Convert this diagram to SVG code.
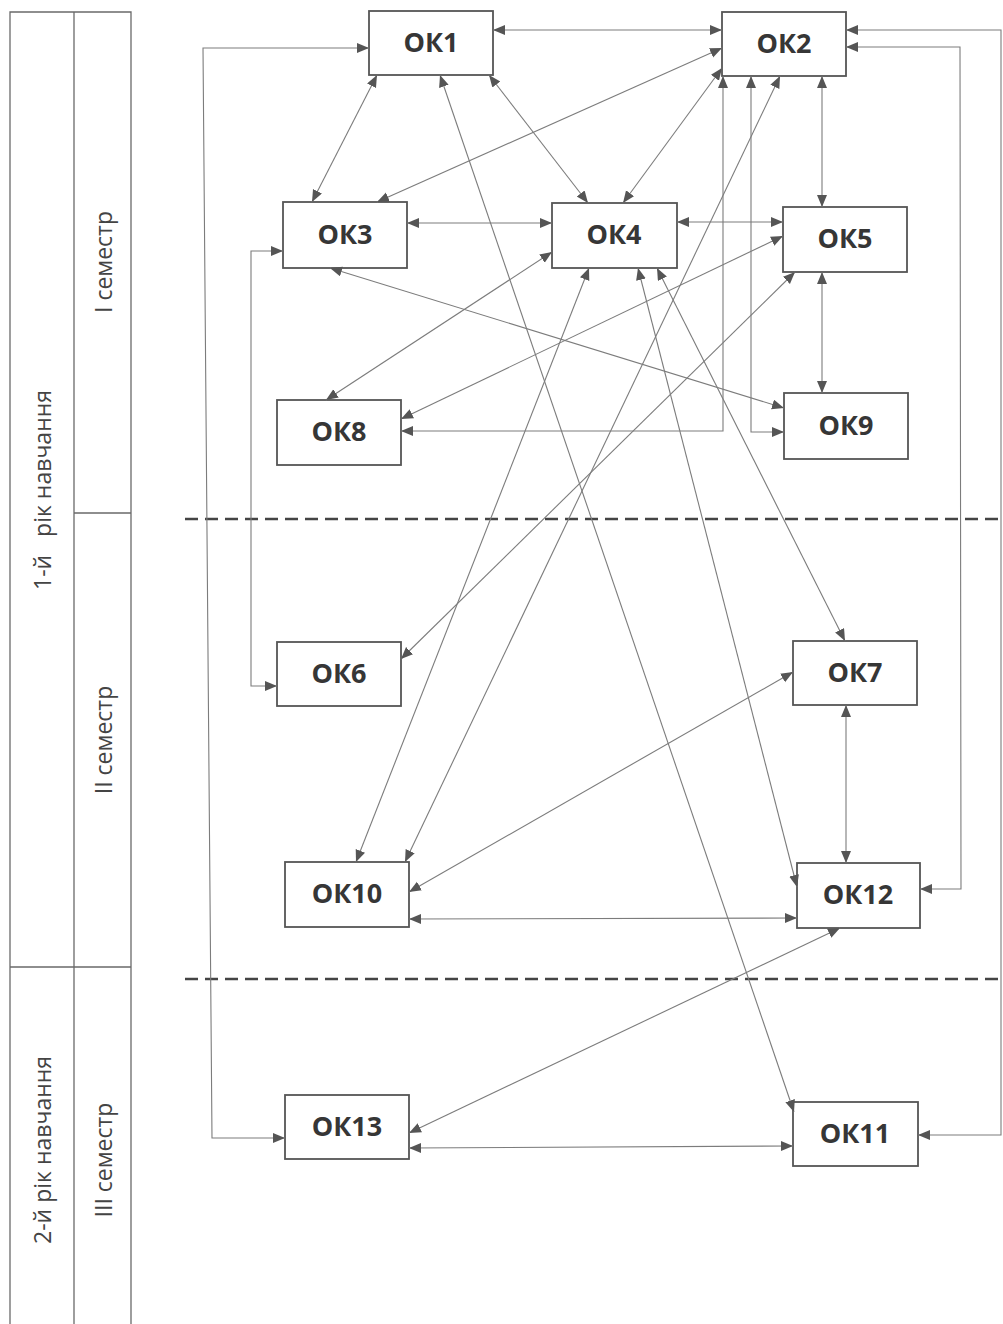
<svg xmlns="http://www.w3.org/2000/svg" width="1003" height="1324" viewBox="0 0 1003 1324">
<style>
.tbl{stroke:#6a6a6a;stroke-width:1.3;fill:none}
.lbl{font-family:"Open Sans","DejaVu Sans",sans-serif;font-size:23px;fill:#444;text-anchor:middle;white-space:pre}
.box{fill:#fff;stroke:#555;stroke-width:1.8}
.nt{font-family:"Open Sans","DejaVu Sans",sans-serif;font-weight:700;font-size:27px;fill:#363636;text-anchor:middle}
.dash{stroke:#444;stroke-width:2.5;stroke-dasharray:13 7;fill:none}
.c{stroke:#7c7c7c;stroke-width:1.1;fill:none;marker-start:url(#ah);marker-end:url(#ah)}
</style>
<defs>
<marker id="ah" markerUnits="userSpaceOnUse" markerWidth="13" markerHeight="11" refX="12" refY="5" orient="auto-start-reverse">
<path d="M0,0 L12,5 L0,10 z" fill="#555"/>
</marker>
</defs>
<rect width="1003" height="1324" fill="#fff"/>
<g id="table">
<path class="tbl" d="M10,1324 V12 H131 V1324 M74,12 V1324 M74,513 H131 M10,967 H131"/>
<text class="lbl" transform="translate(51,490) rotate(-90)">1-й   рік навчання</text>
<text class="lbl" transform="translate(51,1150) rotate(-90)">2-й рік навчання</text>
<text class="lbl" transform="translate(112,262) rotate(-90)">I семестр</text>
<text class="lbl" transform="translate(112,740) rotate(-90)">II семестр</text>
<text class="lbl" transform="translate(112,1160) rotate(-90)">III семестр</text>
</g>
<g id="dividers">
<line class="dash" x1="185" y1="519" x2="1003" y2="519"/>
<line class="dash" x1="185" y1="979" x2="1003" y2="979"/>
</g>
<g id="nodes">
<g id="ok1"><rect class="box" x="369" y="11" width="124" height="64"/><text class="nt" x="431" y="52">ОК1</text></g>
<g id="ok2"><rect class="box" x="722" y="12" width="124" height="64"/><text class="nt" x="784" y="53">ОК2</text></g>
<g id="ok3"><rect class="box" x="283" y="202" width="124" height="66"/><text class="nt" x="345" y="244">ОК3</text></g>
<g id="ok4"><rect class="box" x="552" y="203" width="125" height="65"/><text class="nt" x="614" y="244">ОК4</text></g>
<g id="ok5"><rect class="box" x="783" y="207" width="124" height="65"/><text class="nt" x="845" y="248">ОК5</text></g>
<g id="ok8"><rect class="box" x="277" y="400" width="124" height="65"/><text class="nt" x="339" y="441">ОК8</text></g>
<g id="ok9"><rect class="box" x="784" y="393" width="124" height="66"/><text class="nt" x="846" y="435">ОК9</text></g>
<g id="ok6"><rect class="box" x="277" y="642" width="124" height="64"/><text class="nt" x="339" y="683">ОК6</text></g>
<g id="ok7"><rect class="box" x="793" y="641" width="124" height="64"/><text class="nt" x="855" y="682">ОК7</text></g>
<g id="ok10"><rect class="box" x="285" y="862" width="124" height="65"/><text class="nt" x="347" y="903">ОК10</text></g>
<g id="ok12"><rect class="box" x="797" y="863" width="123" height="65"/><text class="nt" x="858" y="904">ОК12</text></g>
<g id="ok13"><rect class="box" x="285" y="1095" width="124" height="64"/><text class="nt" x="347" y="1136">ОК13</text></g>
<g id="ok11"><rect class="box" x="793" y="1102" width="125" height="64"/><text class="nt" x="855" y="1143">ОК11</text></g>
</g>
<g id="connectors">
<line class="c" x1="493" y1="30" x2="722" y2="30"/>
<polyline class="c" points="369,48 203,48 212,1138 285,1138"/>
<polyline class="c" points="283,251 251,251 251,686 277,686"/>
<line class="c" x1="377" y1="75" x2="312" y2="202"/>
<line class="c" x1="722" y1="48" x2="377" y2="202"/>
<line class="c" x1="489" y1="75" x2="588" y2="203"/>
<line class="c" x1="722" y1="68" x2="623" y2="203"/>
<line class="c" x1="407" y1="223" x2="552" y2="223"/>
<line class="c" x1="677" y1="222" x2="783" y2="222"/>
<line class="c" x1="822" y1="76" x2="822" y2="207"/>
<line class="c" x1="822" y1="272" x2="822" y2="393"/>
<polyline class="c" points="723,76 723,431 401,431"/>
<polyline class="c" points="751,76 751,432 784,432"/>
<line class="c" x1="780" y1="76" x2="405" y2="862"/>
<line class="c" x1="440" y1="75" x2="794" y2="1112"/>
<line class="c" x1="330" y1="268" x2="784" y2="408"/>
<line class="c" x1="552" y1="252" x2="326" y2="400"/>
<line class="c" x1="783" y1="236" x2="401" y2="419"/>
<line class="c" x1="795" y1="272" x2="401" y2="659"/>
<line class="c" x1="589" y1="268" x2="356" y2="862"/>
<line class="c" x1="638" y1="268" x2="797" y2="887"/>
<line class="c" x1="657" y1="268" x2="845" y2="641"/>
<line class="c" x1="793" y1="672" x2="409" y2="892"/>
<line class="c" x1="846" y1="705" x2="846" y2="863"/>
<line class="c" x1="409" y1="919" x2="797" y2="918"/>
<line class="c" x1="840" y1="928" x2="409" y2="1133"/>
<line class="c" x1="409" y1="1148" x2="793" y2="1146"/>
<polyline class="c" points="846,47 960,47 961,889 920,889"/>
<polyline class="c" points="846,30 1001,30 1001,1135 918,1135"/>
</g>
</svg>
